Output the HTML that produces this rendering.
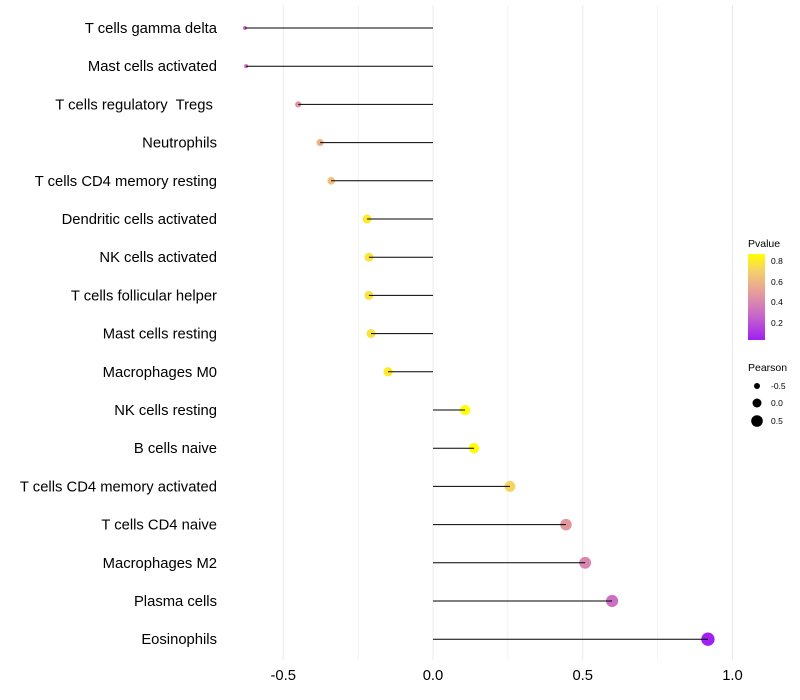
<!DOCTYPE html>
<html><head><meta charset="utf-8"><style>
body{margin:0;background:#fff;}
svg{display:block;font-family:"Liberation Sans",sans-serif;}
</style></head><body>
<svg id="chart" width="800" height="700">
<defs>
<linearGradient id="pgrad" x1="0" y1="1" x2="0" y2="0">
<stop offset="0" stop-color="#A020F0"/>
<stop offset="0.3" stop-color="#C96AC8"/>
<stop offset="0.55" stop-color="#E59C9C"/>
<stop offset="0.8" stop-color="#F5CF6A"/>
<stop offset="1" stop-color="#FFFF00"/>
</linearGradient>
</defs>
<g id="grid"></g>
<g id="marks"></g>
<g id="ylabels"></g>
<g id="xlabels"></g>
<g>
<text x="748" y="247" font-size="10.5" fill="#000">Pvalue</text>
<rect x="748" y="254" width="17" height="86" fill="url(#pgrad)"/>
<text x="771" y="264" font-size="8.5">0.8</text>
<text x="771" y="285" font-size="8.5">0.6</text>
<text x="771" y="305" font-size="8.5">0.4</text>
<text x="771" y="326" font-size="8.5">0.2</text>
</g>
<g>
<text x="748" y="371" font-size="10.5">Pearson</text>
<circle cx="757" cy="386" r="3" fill="#000"/><text x="771" y="389" font-size="8.5">-0.5</text>
<circle cx="757" cy="403" r="4.5" fill="#000"/><text x="771" y="406" font-size="8.5">0.0</text>
<circle cx="757" cy="421" r="5.8" fill="#000"/><text x="771" y="424" font-size="8.5">0.5</text>
</g>
</svg>
<script>
const categories=["T cells gamma delta","Mast cells activated","T cells regulatory  Tregs ","Neutrophils","T cells CD4 memory resting","Dendritic cells activated","NK cells activated","T cells follicular helper","Mast cells resting","Macrophages M0","NK cells resting","B cells naive","T cells CD4 memory activated","T cells CD4 naive","Macrophages M2","Plasma cells","Eosinophils"];
const pearson=[-0.628,-0.624,-0.45,-0.377,-0.34,-0.22,-0.214,-0.214,-0.207,-0.15,0.107,0.137,0.257,0.444,0.508,0.598,0.918];
const pvalue=[0.3,0.3,0.45,0.58,0.63,0.8,0.77,0.77,0.77,0.8,0.87,0.86,0.72,0.47,0.4,0.3,0.02];
const xTicks=[-0.5,0,0.5,1];
const xTickLabels=["-0.5","0.0","0.5","1.0"];
const minorTicks=[-0.25,0.25,0.75];
const NS="http://www.w3.org/2000/svg";
const x=v=>433+v*299.5;
const y=i=>28+i*38.2;
function rad(v){if(v<-0.22)return Math.max(1.8,2+(v+0.63)/0.41*2.5);return 4.5+(v+0.22)/1.14*2.2;}
const stops=[[0,[160,32,240]],[0.3,[201,106,200]],[0.55,[229,156,156]],[0.8,[245,207,106]],[1,[255,255,0]]];
function col(p){let t=(p-0.02)/(0.87-0.02);t=Math.max(0,Math.min(1,t));
for(let k=1;k<stops.length;k++){if(t<=stops[k][0]){const a=stops[k-1],b=stops[k];const f=(t-a[0])/(b[0]-a[0]);
return "rgb("+a[1].map((c,j)=>Math.round(c+(b[1][j]-c)*f)).join(",")+")";}}return "rgb(255,255,0)";}
function mk(tag,attrs,parent){const e=document.createElementNS(NS,tag);for(const k in attrs)e.setAttribute(k,attrs[k]);parent.appendChild(e);return e;}
const grid=document.getElementById('grid'),marks=document.getElementById('marks'),yl=document.getElementById('ylabels'),xl=document.getElementById('xlabels');
minorTicks.concat(xTicks).forEach(v=>{const l=mk('line',{x1:x(v),x2:x(v),y1:5,y2:660,stroke:'#ebebeb','stroke-width':xTicks.includes(v)?1:0.6},grid);

});
xTicks.forEach((v,i)=>{const t=mk('text',{x:x(v),y:680,'font-size':14.8,'text-anchor':'middle',fill:'#000'},xl);t.textContent=xTickLabels[i];

});
categories.forEach((c,i)=>{
const t=mk('text',{x:217,y:y(i)+5,'font-size':14.8,'text-anchor':'end',fill:'#000','xml:space':'preserve'},yl);t.textContent=c;
t.style.whiteSpace='pre';


const p=mk('circle',{cx:x(pearson[i]),cy:y(i),r:rad(pearson[i]),fill:col(pvalue[i])},marks);


const l=mk('line',{x1:x(0),x2:x(pearson[i]),y1:y(i),y2:y(i),stroke:'#000','stroke-width':1},marks);


});
</script>
</body></html>
